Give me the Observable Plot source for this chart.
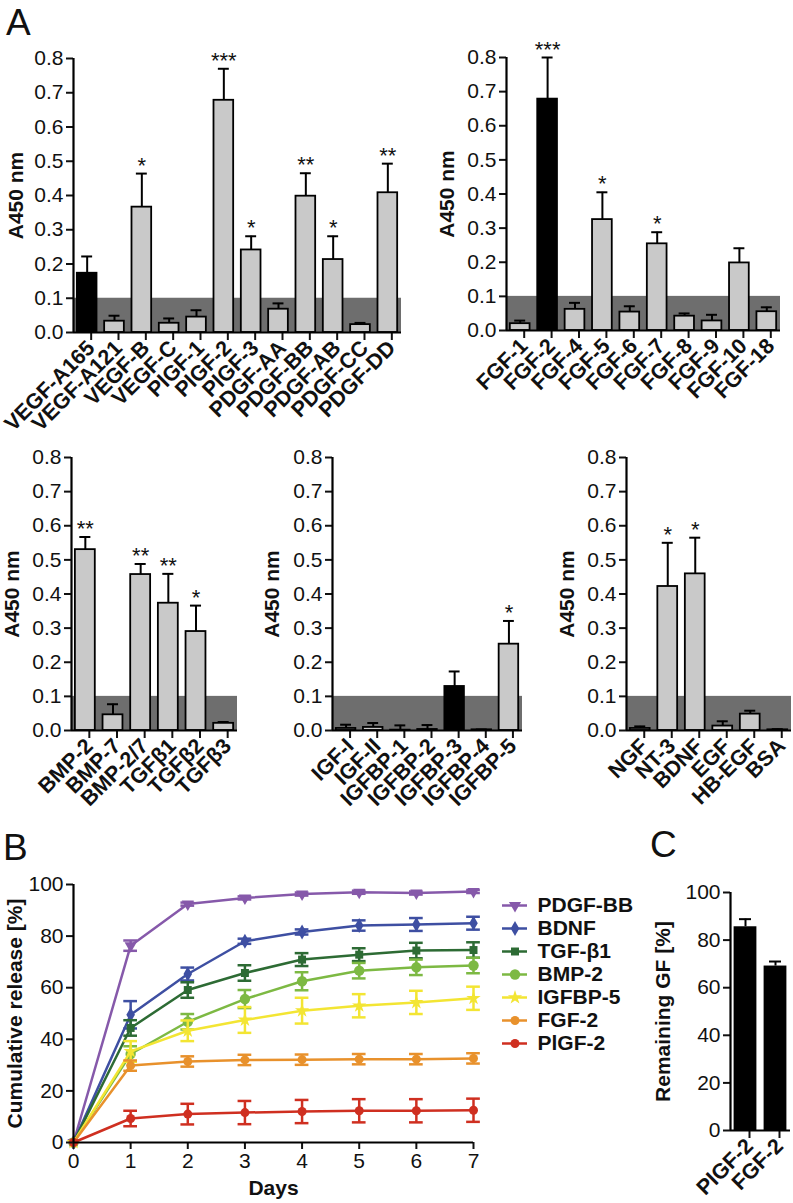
<!DOCTYPE html>
<html>
<head>
<meta charset="utf-8">
<script src="https://cdn.jsdelivr.net/npm/d3@7"></script>
<script src="https://cdn.jsdelivr.net/npm/@observablehq/plot@0.6"></script>
<style>
  html, body { margin: 0; padding: 0; background: #fff; }
  #fig { position: relative; width: 793px; height: 1203px; overflow: hidden; font-family: "Liberation Sans", Arial, sans-serif; }
  .panel { position: absolute; }
  .letter { position: absolute; font-size: 37px; line-height: 1; color: #111; }
</style>
</head>
<body>
<div id="fig"></div>
<script>
// ---------------- Data ----------------
// Panel A, row 1 left
const vegfCats = ["VEGF-A165","VEGF-A121","VEGF-B","VEGF-C","PlGF-1","PlGF-2","PlGF-3","PDGF-AA","PDGF-BB","PDGF-AB","PDGF-CC","PDGF-DD"];
const vegfMean = [0.173,0.033,0.366,0.027,0.045,0.678,0.241,0.068,0.398,0.213,0.023,0.408];
const vegfTop  = [0.222,0.049,0.464,0.041,0.065,0.770,0.281,0.085,0.465,0.281,0.028,0.493];
const vegfSig  = ["","","*","","","***","*","","**","*","","**"];
const vegfControl = "VEGF-A165";

// Panel A, row 1 right
const fgfCats = ["FGF-1","FGF-2","FGF-4","FGF-5","FGF-6","FGF-7","FGF-8","FGF-9","FGF-10","FGF-18"];
const fgfMean = [0.020,0.678,0.062,0.325,0.054,0.254,0.042,0.028,0.198,0.055];
const fgfTop  = [0.029,0.800,0.081,0.405,0.071,0.288,0.050,0.046,0.241,0.068];
const fgfSig  = ["","***","","*","","*","","","",""];
const fgfControl = "FGF-2";

// Panel A, row 2 left
const bmpCats = ["BMP-2","BMP-7","BMP-2/7","TGFβ1","TGFβ2","TGFβ3"];
const bmpMean = [0.530,0.046,0.457,0.373,0.290,0.021];
const bmpTop  = [0.567,0.077,0.488,0.459,0.366,0.025];
const bmpSig  = ["**","","**","**","*",""];
const bmpControl = null;

// Panel A, row 2 middle
const igfCats = ["IGF-I","IGF-II","IGFBP-1","IGFBP-2","IGFBP-3","IGFBP-4","IGFBP-5"];
const igfMean = [0.006,0.009,0.001,0.003,0.129,0.002,0.253];
const igfTop  = [0.017,0.022,0.015,0.016,0.173,0.003,0.321];
const igfSig  = ["","","","","","","*"];
const igfControl = "IGFBP-3";

// Panel A, row 2 right
const ngfCats = ["NGF","NT-3","BDNF","EGF","HB-EGF","BSA"];
const ngfMean = [0.006,0.422,0.459,0.013,0.048,0.002];
const ngfTop  = [0.012,0.550,0.565,0.027,0.058,0.004];
const ngfSig  = ["","*","*","","",""];
const ngfControl = null;

const a450Ticks = [0,0.1,0.2,0.3,0.4,0.5,0.6,0.7,0.8];
const background = 0.1;

// Panel B
const days = [0,1,2,3,4,5,6,7];
const releaseNames = ["PDGF-BB","BDNF","TGF-β1","BMP-2","IGFBP-5","FGF-2","PlGF-2"];
const releaseColors = ["#8659aa","#3e4fa2","#2d6b34","#7db943","#f3e533","#e8912c","#cf2f20"];
const releaseSymbols = ["triangle","diamond","square","circle","star","circle","circle"];
const pdgfbbRel = [0,76.3,92.4,94.8,96.3,97.0,96.7,97.3];
const pdgfbbErr = [0,2.0,0.6,0.6,0.6,0.6,0.6,0.6];
const bdnfRel   = [0,49.5,65.3,78.0,81.6,84.1,84.5,85.0];
const bdnfErr   = [0,5.3,2.5,1.0,1.0,2.0,2.5,2.5];
const tgfRel    = [0,44.4,59.1,65.7,70.9,72.8,74.4,74.6];
const tgfErr    = [0,3.0,3.0,3.0,2.5,2.5,3.0,3.0];
const bmp2Rel   = [0,34.3,46.8,55.6,62.5,66.6,67.9,68.6];
const bmp2Err   = [0,3.0,3.0,3.5,3.5,3.0,3.0,3.0];
const igfbp5Rel = [0,35.3,43.3,47.5,51.1,53.0,54.3,55.9];
const igfbp5Err = [0,4.0,4.0,5.0,5.0,4.5,4.5,4.5];
const fgf2Rel   = [0,29.8,31.4,32.0,32.1,32.3,32.3,32.6];
const fgf2Err   = [0,2.0,2.0,2.0,2.0,2.0,2.0,2.0];
const plgf2Rel  = [0,9.3,11.0,11.6,12.0,12.3,12.3,12.5];
const plgf2Err  = [0,3.0,4.0,4.5,4.5,4.5,4.5,4.5];
const releaseValues = [pdgfbbRel,bdnfRel,tgfRel,bmp2Rel,igfbp5Rel,fgf2Rel,plgf2Rel];
const releaseErrors = [pdgfbbErr,bdnfErr,tgfErr,bmp2Err,igfbp5Err,fgf2Err,plgf2Err];
const releaseTicks = [0,20,40,60,80,100];

// Panel C
const remainCats = ["PlGF-2","FGF-2"];
const remainMean = [85.6,69.1];
const remainTop  = [88.8,71.0];
const remainTicks = [0,20,40,60,80,100];

// ---------------- Drawing ----------------
const FONT = '"Liberation Sans", Arial, Helvetica, sans-serif';
const TICK_FS = 21, LABEL_FS = 21, XLAB_FS = 21.5, STAR_FS = 22;
const fig = document.getElementById("fig");
function place(node, left, top) {
  const d = document.createElement("div");
  d.className = "panel";
  d.style.left = left + "px";
  d.style.top = top + "px";
  d.appendChild(node);
  fig.appendChild(d);
}
function letter(t, left, top) {
  const d = document.createElement("div");
  d.className = "letter";
  d.textContent = t;
  d.style.left = left + "px";
  d.style.top = top + "px";
  fig.appendChild(d);
}
const baseStyle = {fontFamily: FONT, fontSize: TICK_FS + "px", color: "#111", background: "transparent", overflow: "visible"};

function barPanel(cats, mean, top, sig, control, box) {
  const n = cats.length;
  const rows = cats.map((c, i) => ({i, c, v: mean[i], e: top[i], s: sig[i], fill: c === control ? "#000000" : "#c9c9c9"}));
  return Plot.plot({
    width: box.w, height: box.h,
    marginLeft: box.ml, marginRight: box.mr, marginTop: box.mt, marginBottom: box.mb,
    style: baseStyle,
    x: {domain: [-0.5, n - 0.5]},
    y: {domain: [0, 0.8]},
    marks: [
      Plot.rect([background], {x1: -0.5, x2: n - 0.5, y1: 0, y2: d => d, fill: "#6e6e6e"}),
      Plot.ruleX(rows, {x: "i", y1: "v", y2: "e", stroke: "#000", strokeWidth: 2}),
      Plot.ruleY(rows, {y: "e", x1: d => d.i - 0.2, x2: d => d.i + 0.2, stroke: "#000", strokeWidth: 2}),
      Plot.rect(rows, {x1: d => d.i - 0.36, x2: d => d.i + 0.36, y1: 0, y2: "v", fill: "fill", stroke: "#000", strokeWidth: 1.8}),
      Plot.text(rows.filter(d => d.s), {x: "i", y: "e", text: "s", lineAnchor: "bottom", dy: -1, fontSize: STAR_FS}),
      Plot.axisY({ticks: a450Ticks, tickFormat: d3.format(".1f"), tickSize: 7, tickPadding: 3, label: null, strokeWidth: 2, fontSize: TICK_FS}),
      Plot.axisX({ticks: d3.range(n), tickFormat: i => cats[i], tickRotate: -45, tickSize: 8, tickPadding: 4, dx: 4, label: null, strokeWidth: 2, fontWeight: "bold", fontSize: XLAB_FS}),
      Plot.ruleX([-0.5], {y1: 0, y2: 0.8, stroke: "#000", strokeWidth: 2.2}),
      Plot.ruleY([0], {x1: -0.5, x2: n - 0.5, stroke: "#000", strokeWidth: 2.2}),
      Plot.text(["A450 nm"], {frameAnchor: "left", textAnchor: "middle", rotate: -90, dx: -box.lo, fontWeight: "bold", fontSize: LABEL_FS})
    ]
  });
}

// Row 1
place(barPanel(vegfCats, vegfMean, vegfTop, vegfSig, vegfControl,
  {w: 410, h: 420, ml: 73, mr: 9, mt: 58, mb: 88, lo: 57}), 0, 0);
place(barPanel(fgfCats, fgfMean, fgfTop, fgfSig, fgfControl,
  {w: 373, h: 420, ml: 86, mr: 13, mt: 57, mb: 90, lo: 59}), 420, 0);
// Row 2
place(barPanel(bmpCats, bmpMean, bmpTop, bmpSig, bmpControl,
  {w: 255, h: 410, ml: 71, mr: 18, mt: 57, mb: 80, lo: 59}), 0, 400);
place(barPanel(igfCats, igfMean, igfTop, igfSig, igfControl,
  {w: 275, h: 410, ml: 72, mr: 13, mt: 57, mb: 80, lo: 60}), 260, 400);
place(barPanel(ngfCats, ngfMean, ngfTop, ngfSig, ngfControl,
  {w: 258, h: 410, ml: 91, mr: 2, mt: 57, mb: 80, lo: 59}), 535, 400);

// Panel B
const relRows = [];
releaseNames.forEach((name, k) => days.forEach((d, j) => relRows.push({name, k, day: d, v: releaseValues[k][j], e: releaseErrors[k][j]})));
const relMarks = [];
releaseNames.forEach((name, k) => {
  const r = relRows.filter(d => d.k === k);
  const re = r.filter(d => d.e > 0);
  relMarks.push(
    Plot.ruleX(re, {x: "day", y1: d => d.v - d.e, y2: d => d.v + d.e, stroke: releaseColors[k], strokeWidth: 2.5}),
    Plot.ruleY(re, {y: d => d.v + d.e, x1: d => d.day - 0.12, x2: d => d.day + 0.12, stroke: releaseColors[k], strokeWidth: 2.5}),
    Plot.ruleY(re, {y: d => d.v - d.e, x1: d => d.day - 0.12, x2: d => d.day + 0.12, stroke: releaseColors[k], strokeWidth: 2.5}),
    Plot.line(r, {x: "day", y: "v", stroke: releaseColors[k], strokeWidth: 2.5}),
    Plot.dot(r, {x: "day", y: "v", symbol: releaseSymbols[k], rotate: k === 0 ? 180 : 0, r: k === 3 ? 5.2 : 4.5, fill: releaseColors[k], stroke: "none"})
  );
});
const chartB = Plot.plot({
  width: 490, height: 343, marginLeft: 73, marginRight: 17, marginTop: 24, marginBottom: 61,
  style: baseStyle,
  x: {domain: [0, 7]},
  y: {domain: [0, 100]},
  marks: [
    ...relMarks,
    Plot.axisY({ticks: releaseTicks, tickFormat: d3.format("d"), tickSize: 7, tickPadding: 3, label: null, strokeWidth: 2, fontSize: TICK_FS}),
    Plot.axisX({ticks: days, tickFormat: d3.format("d"), tickSize: 7, tickPadding: 4, label: null, strokeWidth: 2, fontSize: TICK_FS}),
    Plot.ruleX([0], {y1: 0, y2: 100, stroke: "#000", strokeWidth: 2.2}),
    Plot.ruleY([0], {x1: 0, x2: 7, stroke: "#000", strokeWidth: 2.2}),
    Plot.text(["Cumulative release [%]"], {frameAnchor: "left", textAnchor: "middle", rotate: -90, dx: -58, fontWeight: "bold", fontSize: LABEL_FS}),
    Plot.text(["Days"], {frameAnchor: "bottom", textAnchor: "middle", lineAnchor: "middle", dy: 46, fontWeight: "bold", fontSize: LABEL_FS})
  ]
});
place(chartB, 0, 860);

// Legend for B
const legend = Plot.plot({
  width: 160, height: 192, margin: 0,
  style: baseStyle,
  x: {domain: [0, 1], range: [7, 32], axis: null},
  y: {domain: releaseNames, range: [14, 178], type: "point", axis: null},
  marks: [
    Plot.ruleY(releaseNames, {y: d => d, x1: 0, x2: 1, stroke: (d, i) => releaseColors[i], strokeWidth: 2.5}),
    ...releaseNames.map((name, k) => Plot.dot([name], {x: 0.5, y: d => d, symbol: releaseSymbols[k], rotate: k === 0 ? 180 : 0, r: k === 3 ? 5.2 : 4.5, fill: releaseColors[k]})),
    Plot.text(releaseNames, {x: 1.4, y: d => d, text: d => d, textAnchor: "start", fontWeight: "bold", fontSize: LABEL_FS})
  ]
});
place(legend, 495, 878);

// Panel C
const remRows = remainCats.map((c, i) => ({i, c, v: remainMean[i], e: remainTop[i]}));
const chartC = Plot.plot({
  width: 153, height: 343, marginLeft: 90, marginRight: 3, marginTop: 32, marginBottom: 73,
  style: baseStyle,
  x: {domain: [-0.5, remainCats.length - 0.5]},
  y: {domain: [0, 100]},
  marks: [
    Plot.ruleX(remRows, {x: "i", y1: "v", y2: "e", stroke: "#000", strokeWidth: 2}),
    Plot.ruleY(remRows, {y: "e", x1: d => d.i - 0.2, x2: d => d.i + 0.2, stroke: "#000", strokeWidth: 2}),
    Plot.rect(remRows, {x1: d => d.i - 0.38, x2: d => d.i + 0.38, y1: 0, y2: "v", fill: "#000"}),
    Plot.axisY({ticks: remainTicks, tickFormat: d3.format("d"), tickSize: 7, tickPadding: 3, label: null, strokeWidth: 2, fontSize: TICK_FS}),
    Plot.axisX({ticks: d3.range(remainCats.length), tickFormat: i => remainCats[i], tickRotate: -45, tickSize: 8, tickPadding: 4, dx: 4, label: null, strokeWidth: 2, fontWeight: "bold", fontSize: XLAB_FS}),
    Plot.ruleX([-0.5], {y1: 0, y2: 100, stroke: "#000", strokeWidth: 2.2}),
    Plot.ruleY([0], {x1: -0.5, x2: remainCats.length - 0.5, stroke: "#000", strokeWidth: 2.2}),
    Plot.text(["Remaining GF [%]"], {frameAnchor: "left", textAnchor: "middle", rotate: -90, dx: -67, fontWeight: "bold", fontSize: LABEL_FS})
  ]
});
place(chartC, 640, 860);

letter("A", 6, 4);
letter("B", 3, 829);
letter("C", 650, 826);
</script>
</body>
</html>
